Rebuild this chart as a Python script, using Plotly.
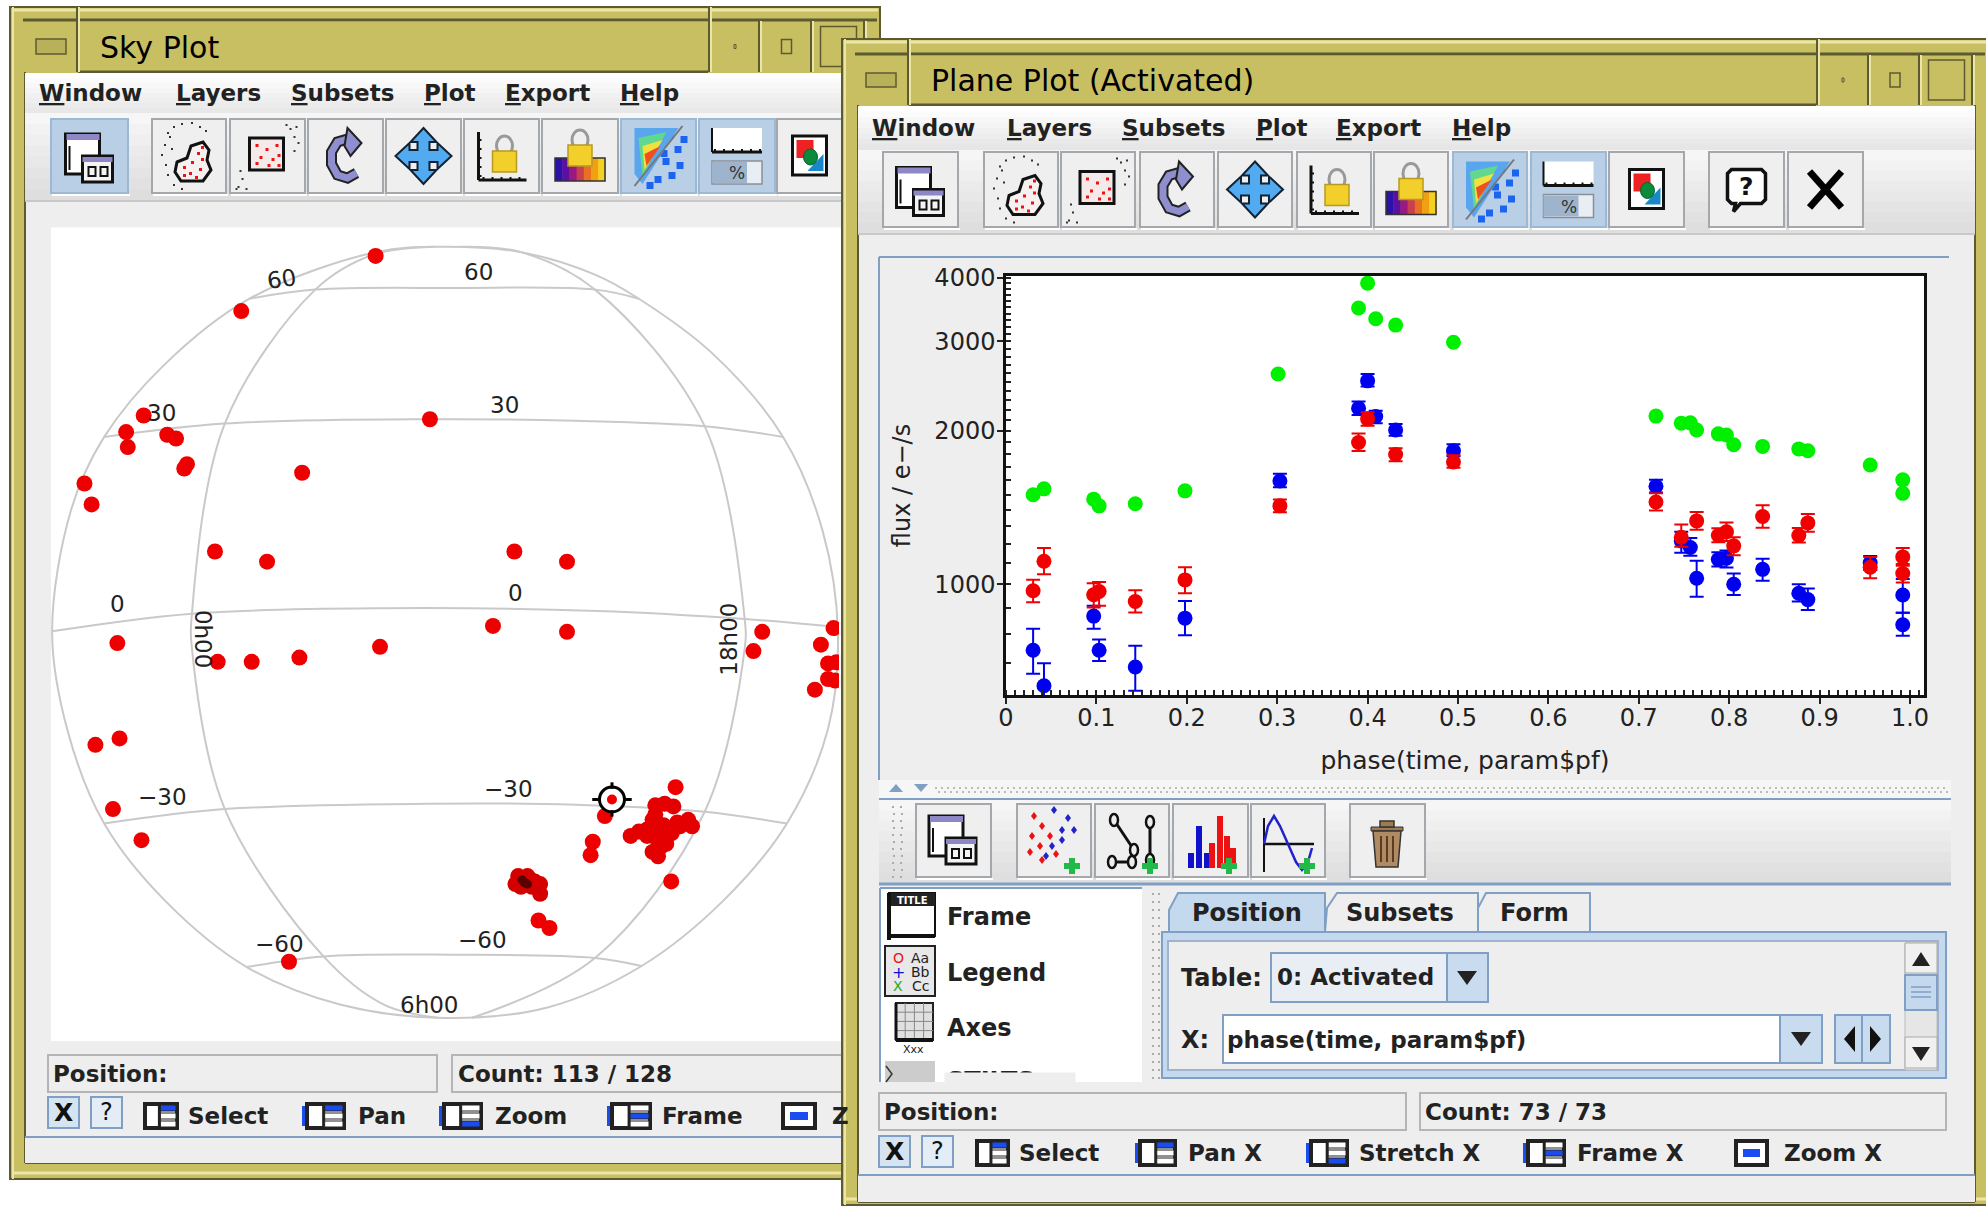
import numpy as np
import plotly.graph_objects as go

W, H = 1986, 1208
FONT = "DejaVu Sans"

# ---------------- Plane plot data ----------------
green_phase = [.030,.042,.097,.103,.143,.198,.301,.390,.400,.409,.431,.495,.719,.747,.757,.764,.788,.797,.805,.837,.877,.887,.956,.992,.992]
green_flux = [1499,1540,1470,1426,1440,1526,2590,3490,3905,3325,3230,2990,2140,2073,2076,2010,1975,1965,1880,1866,1845,1830,1716,1604,1509]

red_phase = [.030,.042,.097,.103,.143,.198,.303,.390,.400,.431,.495,.719,.747,.764,.788,.797,.805,.837,.877,.887,.956,.992,.992]
red_flux = [971,1110,954,968,925,1020,1426,1899,2113,1799,1739,1451,1237,1332,1247,1268,1190,1359,1247,1320,1080,1132,1050]
red_hi = [1021,1179,1005,1011,973,1080,1468,1978,2178,1851,1793,1509,1311,1387,1288,1322,1237,1430,1290,1374,1132,1179,1096]
red_lo = [922,1046,900,908,880,960,1385,1828,2049,1745,1694,1396,1185,1280,1210,1217,1140,1292,1208,1268,1028,1087,1008]

blue_phase = [.030,.042,.097,.103,.143,.198,.303,.390,.400,.409,.431,.495,.719,.747,.757,.764,.788,.797,.805,.837,.877,.887,.956,.992,.992]
blue_flux = [742,632,866,742,688,858,1596,2218,2510,2137,2010,1830,1558,1217,1181,1028,1119,1125,1000,1070,960,933,1102,953,833]
blue_hi = [818,700,908,779,757,927,1648,2287,2590,2192,2066,1884,1604,1269,1233,1112,1156,1165,1050,1123,1000,981,1136,1024,879]
blue_lo = [667,569,818,707,618,794,1551,2150,2447,2073,1959,1784,1514,1153,1138,945,1084,1079,953,1016,925,890,1067,879,792]

y_ticks = [1000,2000,3000,4000]
y_minor = [600,700,800,900,1000,1100,1200,1300,1400,1500,1600,1700,1800,1900,2000,2100,2200,2300,2400,2500,2600,2700,2800,2900,3000,3100,3200,3300,3400,3500,3600,3700,3800,3900,4000]

# ---------------- Sky plot data (position on the sky panel) ----------------
sky_x = [685,440,262,230,233,305,321,341,336,154,167,551,784,392,487,938,1034,899,1034,214,397,459,546,693,174,218,206,258,527,
         1390,1374,1497,1520,1510,1525,1510,1523,1486,1103,1081,1077,1232,1224,982,1002]
sky_y = [67,170,365,396,424,401,408,456,464,492,531,472,372,619,638,619,638,758,769,790,825,825,817,797,980,968,1100,1158,1385,
         769,805,793,762,828,826,857,860,877,1113,1161,1186,1059,1235,1308,1322]
cluster_x = [1195,1212,1228,1190,1150,1165,1180,1195,1210,1240,1255,1262,1180,1195,1210,1225,1205,1190,1200,1195,1215,1235,1200]
cluster_y = [1093,1090,1095,1120,1150,1142,1138,1135,1130,1132,1120,1132,1150,1150,1155,1145,1170,1180,1188,1110,1165,1125,1160]
clump_x = [945,975,985,970,985,940,950,962,968]
clump_y = [1225,1235,1240,1245,1258,1240,1245,1225,1232]
core_x = [955,958,952,962]
core_y = [1236,1238,1232,1240]
target_x, target_y = [1116], [1082]

grid_lat = {
    "60":  ([455,575,830,1085,1165],[147,130,127,130,147]),
    "30":  ([190,410,780,1050,1285,1428],[405,380,372,375,385,405]),
    "0":   ([95,350,700,1090,1358,1528],[768,735,725,730,745,760]),
    "-30": ([190,410,780,1050,1285,1435],[1127,1100,1090,1092,1105,1127]),
    "-60": ([450,590,830,1085,1170],[1395,1375,1372,1378,1393]),
}
grid_lon = {
    "0h00":  ([790,680,575,410,350,350,410,590,700,800],[50,65,130,380,735,800,1100,1375,1465,1490]),
    "18h00": ([840,950,1085,1285,1358,1358,1285,1085,860],[50,60,130,385,745,800,1105,1378,1490]),
}
limb_x = [811,950,1085,1165,1300,1428,1500,1528,1510,1435,1320,1170,1000,811,620,450,300,190,125,95,130,190,300,455,685,811]
limb_y = [50,60,102,147,250,405,580,770,950,1127,1270,1393,1470,1490,1465,1395,1270,1127,960,770,540,405,270,147,60,50]
sky_labels = [("60",513,110,-8),("60",873,98,0),("30",295,360,0),("30",920,345,0),("0",215,717,0),("0",940,697,0),
              ("0h00",370,782,90),("18h00",1330,783,-90),("\u221230",297,1078,0),("\u221230",927,1063,0),
              ("\u221260",510,1352,0),("\u221260",880,1345,0),("6h00",783,1465,0)]

# ---------------- drawing helpers (pixels -> paper) ----------------
shapes, notes = [], []
PX = lambda x: x / W
PY = lambda y: 1 - y / H
def rect(x0, y0, x1, y1, fill=None, line=None, lw=1):
    shapes.append(dict(type="rect", xref="paper", yref="paper", x0=PX(x0), x1=PX(x1), y0=PY(y1), y1=PY(y0),
                       fillcolor=fill or "rgba(0,0,0,0)", line=dict(color=line or "rgba(0,0,0,0)", width=lw if line else 0), layer="below"))
def seg(x0, y0, x1, y1, color="#000", lw=2):
    shapes.append(dict(type="line", xref="paper", yref="paper", x0=PX(x0), x1=PX(x1), y0=PY(y0), y1=PY(y1),
                       line=dict(color=color, width=lw), layer="below"))
def poly(pts, fill=None, line=None, lw=1, close=True):
    d = "M " + " L ".join(f"{PX(a):.5f} {PY(b):.5f}" for a, b in pts) + (" Z" if close else "")
    shapes.append(dict(type="path", xref="paper", yref="paper", path=d, fillcolor=fill or "rgba(0,0,0,0)",
                       line=dict(color=line or "rgba(0,0,0,0)", width=lw if line else 0), layer="below"))
def oval(cx, cy, rx, ry, fill=None, line=None, lw=1):
    shapes.append(dict(type="circle", xref="paper", yref="paper", x0=PX(cx-rx), x1=PX(cx+rx), y0=PY(cy+ry), y1=PY(cy-ry),
                       fillcolor=fill or "rgba(0,0,0,0)", line=dict(color=line or "rgba(0,0,0,0)", width=lw if line else 0), layer="below"))
def text(x, y, s, size=23, anchor="left", color="#222", bold=False, angle=0):
    notes.append(dict(xref="paper", yref="paper", x=PX(x), y=PY(y), text=f"<b>{s}</b>" if bold else s, showarrow=False,
                      xanchor=anchor, yanchor="middle", textangle=angle, borderpad=0,
                      font=dict(family=FONT, size=size, color=color)))
def grad(x0, y0, x1, y1, c0, c1, n=8):
    a, b = np.array(c0), np.array(c1)
    for i in range(n):
        c = a + (b - a) * i / (n - 1)
        rect(x0, y0 + (y1-y0)*i/n, x1, y0 + (y1-y0)*(i+1)/n + .5, fill="rgb(%d,%d,%d)" % tuple(c))

OLIVE, LIGHT, DARK = "#c8bf62", "#ece6a6", "#5d5a32"
PANEL, METAL, BLUE = "#eeeeee", "#b8cfe5", "#7f9fc4"

def frame(x0, y0, x1, y1, tx0, tx1, ty0, ty1, cl, cr, cb, lb0, lb1, btns):
    rect(x0, y0, x1, y1, fill=OLIVE, line=DARK, lw=2)
    seg(x0+2, y0+3, x1-2, y0+3, LIGHT, 3)
    seg(x0+3, y0, x0+3, y1, LIGHT, 2)
    seg(x0+2, y1-6, x1-2, y1-6, LIGHT, 3)
    rect(tx0, ty0, tx1, ty1, fill=OLIVE)
    seg(tx0, ty0, tx1, ty0, LIGHT, 2); seg(tx0, ty1, tx1, ty1, DARK, 3)
    seg(x0+13, ty0-1, x1-3, ty0-1, DARK, 3)
    seg(tx0-1, y0, tx0-1, ty1, DARK, 2); seg(tx0+1, y0, tx0+1, ty1, LIGHT, 2)
    seg(tx1+1, y0, tx1+1, ty1, DARK, 2); seg(tx1+3, y0, tx1+3, ty1, LIGHT, 2)
    rect(lb0, ty0 + 18, lb1, ty1 - 18, line=DARK, lw=1.5, fill="#b9b05a")
    for i, (a, b) in enumerate(btns):
        seg(b, ty0, b, ty1, DARK, 2); seg(b+2, ty0, b+2, ty1, LIGHT, 2)
        m, c = (a+b)/2, (ty0+ty1)/2
        if i == 0: rect(m-1, c-2, m+1, c+2, line=DARK, lw=1)
        if i == 1: rect(m-5, c-7, m+5, c+7, line=DARK, lw=1.5)
        if i == 2: rect(m-18, c-20, m+18, c+20, line=DARK, lw=1.5)
    rect(cl, ty1+1, cr, cb, fill=PANEL)
    seg(cl, ty1, cl, cb, DARK, 2); seg(cl, cb, cr, cb, DARK, 2); seg(cr, ty1, cr, cb, DARK, 2)

def button(x0, y0, x1, y1, active=False):
    rect(x0, y0, x1, y1, fill=METAL if active else "#efefef", line="#a4a8ac" if not active else "#9db8d4", lw=2)
    seg(x0+1, y1+2, x1+2, y1+2, "#ffffff", 2)

def win_icon(cx, cy):
    rect(cx-24, cy-22, cx+10, cy+18, fill="#fff", line="#111", lw=3)
    rect(cx-23, cy-22, cx+10, cy-16, fill="#8d87c6")
    seg(cx-20, cy-10, cx-20, cy+14, "#111", 2)
    rect(cx-7, cy, cx+23, cy+26, fill="#f4f4f4", line="#111", lw=3)
    rect(cx-7, cy+1, cx+23, cy+6, fill="#8d87c6")
    rect(cx-1, cy+11, cx+6, cy+20, line="#111", lw=2); rect(cx+11, cy+11, cx+18, cy+20, line="#111", lw=2)

DOTS = [(-22,-24),(-16,-30),(-8,-33),(2,-34),(10,-30),(-25,-12),(-28,-2),(-24,8),(-22,18),(-16,28),(-8,32),(-18,-8),(16,-26),(-20,-20)]
def blob_icon(cx, cy):
    for a, b in DOTS: rect(cx+a, cy+b, cx+a+2, cy+b+2, fill="#333")
    poly([(cx-12,cy+6),(cx-2,cy+2),(cx+2,cy-10),(cx+14,cy-14),(cx+20,cy-6),(cx+18,cy+4),(cx+22,cy+14),(cx+14,cy+25),(cx-8,cy+25),(cx-14,cy+16)],
         fill="#f6f0f0", line="#111", lw=3)
    for a, b in [(-6,10),(2,5),(8,-4),(12,-10),(0,16),(10,12),(-6,18),(12,2),(6,20)]: rect(cx+a, cy+b, cx+a+3, cy+b+3, fill="#e11")
def box_icon(cx, cy):
    for a, b in [(22,-28),(26,-20),(18,-32),(30,-14),(28,-30),(-30,30),(-26,22),(-22,32),(-32,32),(-28,14),(26,-6)]:
        rect(cx+a, cy+b, cx+a+2, cy+b+2, fill="#333")
    rect(cx-18, cy-18, cx+16, cy+14, fill="#f4eaea", line="#111", lw=3)
    for a, b in [(-12,-12),(-2,-8),(8,-12),(-8,0),(4,2),(10,-2),(-12,6),(0,8),(10,8)]:
        rect(cx+a, cy+b, cx+a+3, cy+b+3, fill="#e11")
def redo_icon(cx, cy):
    pts = [(cx+11, cy+17), (cx+2, cy+22), (cx-8, cy+19), (cx-14, cy+8), (cx-14, cy-4), (cx-8, cy-14), (cx+2, cy-17)]
    poly(pts, line="#222", lw=11, close=False)
    poly(pts, line="#8f8fd0", lw=7, close=False)
    poly([(cx-1,cy-10),(cx+2,cy-28),(cx+16,cy-13),(cx+5,cy)], fill="#8f8fd0", line="#222", lw=2)
def move_icon(cx, cy):
    s, t, e, a = 6, 13, 14, 28
    poly([(cx,cy-a),(cx+t,cy-e),(cx+s,cy-e),(cx+s,cy-s),(cx+e,cy-s),(cx+e,cy-t),(cx+a,cy),(cx+e,cy+t),(cx+e,cy+s),(cx+s,cy+s),(cx+s,cy+e),
          (cx+t,cy+e),(cx,cy+a),(cx-t,cy+e),(cx-s,cy+e),(cx-s,cy+s),(cx-e,cy+s),(cx-e,cy+t),(cx-a,cy),(cx-e,cy-t),(cx-e,cy-s),(cx-s,cy-s),(cx-s,cy-e),(cx-t,cy-e)],
         fill="#52aaf0", line="#123", lw=2)
def lock(cx, cy):
    oval(cx, cy-10, 8, 10, line="#999", lw=3)
    rect(cx-12, cy-5, cx+12, cy+16, fill="#f2cf2a", line="#b89a20", lw=1.5)
def axlock_icon(cx, cy):
    seg(cx-23, cy-24, cx-23, cy+24, "#111", 3); seg(cx-23, cy+24, cx+25, cy+24, "#111", 3)
    for d in range(0, 45, 9):
        seg(cx-18+d, cy+24, cx-18+d, cy+21, "#111", 2); seg(cx-23, cy-16+d, cx-20, cy-16+d, "#111", 2)
    lock(cx+3, cy)
def colorlock_icon(cx, cy):
    for i, c in enumerate(["#2a12a8","#5a10a0","#9a1880","#c84050","#e87020","#f0a010","#f4d020"]):
        rect(cx-25+i*7.2, cy+2, cx-25+(i+1)*7.2+.5, cy+25, fill=c)
    rect(cx-25, cy+2, cx+25, cy+25, line="#333", lw=1.5)
    lock(cx, cy-6)
def density_icon(cx, cy):
    for a, b in [(8,-24),(16,-10),(4,2),(18,6),(10,16),(-4,20),(22,-20),(-12,26),(2,-6)]:
        rect(cx+a, cy+b, cx+a+7, cy+b+7, fill="#1c64f0")
    poly([(cx-24,cy-28),(cx+20,cy-28),(cx-16,cy+28),(cx-24,cy+18)], fill="#5aa6ee")
    poly([(cx-20,cy-18),(cx+8,cy-24),(cx-16,cy+20)], fill="#60d890")
    poly([(cx-16,cy-10),(cx+4,cy-16),(cx-14,cy+14)], fill="#f0e040")
    poly([(cx-14,cy-2),(cx+2,cy-10),(cx-12,cy+10)], fill="#f05020")
    seg(cx-24, cy+30, cx+24, cy-30, "#777", 2)
def pct_icon(cx, cy):
    rect(cx-25, cy-28, cx+25, cy-4, fill="#fff")
    seg(cx-25, cy-4, cx+25, cy-4, "#111", 3); seg(cx-25, cy-28, cx-25, cy-4, "#111", 2)
    for d in range(0, 50, 9): seg(cx-22+d, cy-4, cx-22+d, cy-7, "#111", 2)
    rect(cx-25, cy+5, cx+25, cy+28, fill="#e8eef4", line="#8a8f96", lw=1.5)
    rect(cx-25, cy+6, cx+10, cy+27, fill="#9db4cc")
    text(cx, cy+17, "%", 17, "center", "#333")
def colors_icon(cx, cy):
    rect(cx-17, cy-20, cx+17, cy+19, fill="#fff", line="#111", lw=3)
    rect(cx-13, cy-16, cx+4, cy+2, fill="#ee2222")
    poly([(cx-2,cy+15),(cx+14,cy+15),(cx+14,cy-2)], fill="#1888c8")
    oval(cx+1, cy+1, 7, 8, fill="#0a8a3a", line="#063", lw=1)
def help_icon(cx, cy):
    poly([(cx-15,cy-20),(cx+15,cy-20),(cx+19,cy-16),(cx+19,cy+10),(cx+15,cy+14),(cx-6,cy+14),(cx-13,cy+22),(cx-11,cy+14),(cx-15,cy+14),(cx-19,cy+10),(cx-19,cy-16)],
         fill="#fff", line="#111", lw=3.5)
    text(cx, cy-3, "<b>?</b>", 25, "center", "#111")
def x_icon(cx, cy):
    seg(cx-16, cy-18, cx+16, cy+18, "#000", 7); seg(cx+16, cy-18, cx-16, cy+18, "#000", 7)

def toolbar(btns, y0, y1, actives):
    fns = [win_icon, blob_icon, box_icon, redo_icon, move_icon, axlock_icon, colorlock_icon, density_icon, pct_icon, colors_icon, help_icon, x_icon]
    for i, (a, b) in enumerate(btns):
        button(a, y0, b, y1, i in actives)
        if i < len(fns): fns[i]((a+b)/2, (y0+y1)/2)

def mode_icon(x0, y0, x1, y1, which, wing=False):
    if wing:
        rect(x0-5, y0+2, x0+3, y1-2, fill="#1a4cf0")
    rect(x0, y0, x1, y1, fill="#fff", line="#222", lw=4)
    m = x0 + (x1-x0)*.45
    seg(m, y0, m, y1, "#222", 3)
    ys = [y0+(y1-y0)*k/3 for k in range(4)]
    for k in range(3):
        rect(m+1, ys[k]+1, x1-1, ys[k+1]-1, fill="#1a4cf0" if k == which else "#fff", line="#222", lw=1)

# ---------------- Sky Plot window ----------------
frame(10, 7, 880, 1179, 78, 708, 21, 72, 25, 842, 1163, 36, 66, [(711,759),(762,811),(813,864)])
grad(25, 73, 842, 113, (255,255,255), (232,232,232))
text(99, 47, "Sky Plot", 30, color="#000")
for s, x in [("<u>W</u>indow",38),("<u>L</u>ayers",175),("<u>S</u>ubsets",290),("<u>P</u>lot",423),("<u>E</u>xport",504),("<u>H</u>elp",619)]:
    text(x, 93, s, 23, bold=True)
grad(25, 113, 842, 200, (246,246,246), (222,222,222))
seg(25, 201, 842, 201, "#c8c8c8", 2)
toolbar([(51,128),(152,226),(230,305),(308,383),(386,461),(464,539),(542,618),(621,696),(699,775),(777,842)], 119, 193, {0,7,8})
rect(51, 227.5, 842, 1041, fill="#ffffff")
rect(48, 1055, 437, 1092, line="#b5b5b5", lw=2); rect(452, 1055, 842, 1092, line="#b5b5b5", lw=2)
text(52, 1074, "Position:", 23, bold=True); text(457, 1074, "Count: 113 / 128", 23, bold=True)
rect(48, 1097, 79, 1128, fill="#d6e3f0", line=BLUE, lw=2); text(63, 1112, "<b>X</b>", 25, "center", "#111")
rect(91, 1097, 122, 1128, fill="#e4edf6", line=BLUE, lw=2); text(106, 1112, "?", 24, "center", "#111")
mode_icon(145, 1104, 177, 1128, 0); text(187, 1116, "Select", 23, bold=True)
mode_icon(307, 1104, 344, 1128, 0, True); text(357, 1116, "Pan", 23, bold=True)
mode_icon(444, 1104, 481, 1128, 2, True); text(494, 1116, "Zoom", 23, bold=True)
mode_icon(612, 1104, 650, 1128, 1, True); text(661, 1116, "Frame", 23, bold=True)
rect(783, 1104, 815, 1128, fill="#fff", line="#222", lw=4); rect(790, 1112, 808, 1120, fill="#1a4cf0")
text(831, 1116, "Z", 23, bold=True)
rect(25, 1137, 842, 1163, fill=PANEL); seg(25, 1137, 842, 1137, BLUE, 2)

# ---------------- Plane Plot window ----------------
frame(842, 39, 1988, 1205, 909, 1816, 55, 105, 858, 1975, 1202, 866, 896, [(1818,1868),(1871,1919),(1921,1972)])
grad(858, 106, 1975, 150, (255,255,255), (230,230,230))
text(930, 80, "Plane Plot (Activated)", 30, color="#000")
for s, x in [("<u>W</u>indow",871),("<u>L</u>ayers",1006),("<u>S</u>ubsets",1121),("<u>P</u>lot",1255),("<u>E</u>xport",1335),("<u>H</u>elp",1451)]:
    text(x, 128, s, 23, bold=True)
grad(858, 150, 1975, 233, (246,246,246), (222,222,222))
seg(858, 234, 1975, 234, "#c8c8c8", 2)
toolbar([(883,958),(984,1058),(1061,1135),(1140,1214),(1218,1292),(1297,1371),(1374,1448),(1453,1527),(1531,1606),(1609,1684),(1709,1784),(1788,1863)], 152, 227, {7,8})
seg(879, 257, 1949, 257, BLUE, 2); seg(879, 257, 879, 780, BLUE, 2)
rect(1006, 276, 1924, 695, fill="#ffffff")
# splitter
rect(879, 780, 1951, 798, fill="#f6f6f6")
poly([(889,792),(903,792),(896,784)], fill=BLUE); poly([(914,784),(928,784),(921,792)], fill=BLUE)
for x in range(935, 1948, 6):
    rect(x, 787, x+2, 789, fill="#bbbbbb"); rect(x+3, 791, x+5, 793, fill="#bbbbbb")
seg(879, 799, 1951, 799, BLUE, 2)
# layer toolbar
grad(879, 800, 1951, 883, (246,246,246), (222,222,222))
seg(879, 884, 1951, 884, BLUE, 3)
for x in [892, 900]:
    for y in range(806, 880, 7):
        rect(x + (y % 2), y, x + 2 + (y % 2), y+2, fill="#aaaaaa")
for a, b in [(916,991),(1017,1091),(1095,1169),(1173,1248),(1251,1325),(1350,1425)]:
    button(a, 804, b, 877)
win_icon(953, 838)
# points-plus icon
c = 1054
for a, b, col in [(-20,-22,"#e11"),(-12,-12,"#e11"),(-22,-2,"#e11"),(-14,8,"#e11"),(-4,-2,"#e11"),(2,16,"#e11"),(-12,22,"#e11"),(-24,14,"#e11"),
                  (0,-28,"#22c"),(14,-20,"#22c"),(8,-8,"#22c"),(20,-8,"#22c"),(-2,8,"#22c"),(8,2,"#22c"),(-8,18,"#22c")]:
    py0 = 838 + b
    poly([(c+a, py0-4), (c+a+3, py0), (c+a, py0+4), (c+a-3, py0)], fill=col)
def plus(cx, cy):
    rect(cx-8, cy-3, cx+8, cy+3, fill="#22b84a"); rect(cx-3, cy-8, cx+3, cy+8, fill="#22b84a")
plus(1072, 866)
# link-plus icon
c = 1132
seg(c-18, 820, c+2, 850, "#111", 3); seg(c+18, 822, c+18, 862, "#111", 3); seg(c-18, 862, c+2, 862, "#111", 3)
for a, b in [(-18,820),(2,850),(18,822),(18,860),(-20,862),(0,862)]:
    oval(c+a, b, 4, 6, fill="#eee", line="#111", lw=2.5)
plus(1150, 866)
# bars-plus icon
c = 1210
for a, h, col in [(-22,15,"#11c"),(-14,42,"#11c"),(-6,15,"#11c"),(-1,25,"#e11"),(7,52,"#e11"),(14,32,"#e11"),(20,20,"#e11")]:
    rect(c+a, 868-h, c+a+6, 868, fill=col)
plus(1229, 866)
# function-plus icon
c = 1288
seg(c-24, 818, c-24, 872, "#111", 2); seg(c-24, 844, c+26, 844, "#111", 2.5)
wave = [(-24,844),(-20,826),(-14,816),(-8,826),(0,844),(8,862),(14,870),(20,862),(24,848)]
poly([(c+a, b) for a, b in wave], line="#2222cc", lw=2.5, close=False)
plus(1307, 866)
# bin icon
c = 1387
rect(c-16, 827, c+16, 831, fill="#a07a50", line="#333", lw=1)
rect(c-7, 821, c+7, 827, fill="#a07a50", line="#333", lw=1.5)
poly([(c-14,831),(c+14,831),(c+11,867),(c-11,867)], fill="#b08a62", line="#333", lw=1.5)
for d in [-6, 0, 6]: seg(c+d, 836, c+d, 862, "#5a3d20", 2)
# control list
rect(881, 888, 1142, 1082, fill="#ffffff")
for x in [1152, 1158]:
    for y in range(893, 1082, 8):
        rect(x, y, x+2, y+2, fill="#aaaaaa")
seg(880, 888, 1142, 888, BLUE, 2); seg(880, 888, 880, 1082, BLUE, 2)
rect(889, 893, 935, 936, fill="#fff", line="#111", lw=2)
rect(889, 893, 935, 906, fill="#222"); text(912, 900, "<b>TITLE</b>", 10, "center", "#fff")
seg(889, 893, 889, 940, "#111", 4); seg(889, 936, 935, 936, "#111", 4)
text(946, 917, "Frame", 24, bold=True)
rect(885, 946, 935, 996, fill="#e8e8e8", line="#222", lw=2)
text(898, 958, "O", 14, "center", "#e11"); text(898, 972, "+", 16, "center", "#11c"); text(898, 986, "X", 14, "center", "#2a2")
text(920, 958, "Aa", 14, "center"); text(920, 972, "Bb", 14, "center"); text(920, 986, "Cc", 14, "center")
text(946, 973, "Legend", 24, bold=True)
rect(896, 1003, 933, 1040, fill="#e0e0e0", line="#222", lw=2)
for k in range(1, 4):
    seg(896, 1003+k*9.2, 933, 1003+k*9.2, "#888", 1); seg(896+k*9.2, 1003, 896+k*9.2, 1040, "#888", 1)
seg(896, 1040, 933, 1040, "#111", 4); seg(896, 1003, 896, 1040, "#111", 3)
text(913, 1049, "Xxx", 11, "center")
text(946, 1028, "Axes", 24, bold=True)
rect(885, 1061, 935, 1082, fill="#cccccc")
poly([(886,1066),(892,1074),(886,1082)], line="#333", lw=1.5, close=False)
text(946, 1081, "STILTS", 24, bold=True)
notes.append(dict(xref="paper", yref="paper", x=PX(1010), y=PY(1090), text=" ", showarrow=False, width=130, height=16, bgcolor=PANEL, borderpad=0))
# tabs
poly([(1169,932),(1169,910),(1178,893),(1325,893),(1325,932)], fill="#c5d9ee", line=BLUE, lw=2)
poly([(1325,932),(1327,908),(1337,893),(1478,893),(1478,932)], fill=PANEL, line=BLUE, lw=2)
poly([(1478,932),(1478,908),(1486,893),(1590,893),(1590,932)], fill=PANEL, line=BLUE, lw=2)
text(1247, 913, "Position", 24, "center", bold=True); text(1400, 913, "Subsets", 24, "center", bold=True); text(1534, 913, "Form", 24, "center", bold=True)
rect(1162, 932, 1946, 1078, fill="#c5d9ee", line=BLUE, lw=2)
rect(1168, 941, 1938, 1070, fill=PANEL, line="#9fb4cc", lw=2)
text(1180, 978, "Table:", 24, bold=True)
rect(1271, 953, 1488, 1002, fill="#e9eef4", line=BLUE, lw=2); rect(1447, 953, 1488, 1002, fill="#c9dbee", line=BLUE, lw=2)
poly([(1457,971),(1477,971),(1467,985)], fill="#222")
text(1276, 977, "0: Activated", 23, bold=True)
text(1180, 1040, "X:", 24, bold=True)
rect(1223, 1015, 1780, 1063, fill="#fff", line=BLUE, lw=2); rect(1780, 1015, 1822, 1063, fill="#c9dbee", line=BLUE, lw=2)
poly([(1791,1032),(1811,1032),(1801,1046)], fill="#222")
text(1226, 1040, "phase(time, param$pf)", 23, bold=True)
rect(1835, 1015, 1862, 1063, fill="#c9dbee", line=BLUE, lw=2); rect(1862, 1015, 1890, 1063, fill="#c9dbee", line=BLUE, lw=2)
poly([(1855,1026),(1855,1052),(1844,1039)], fill="#111"); poly([(1870,1026),(1870,1052),(1881,1039)], fill="#111")
rect(1905, 943, 1937, 1070, fill="#e6e6e6", line="#bbbbbb", lw=1)
rect(1905, 943, 1937, 973, fill="#f0f0f0", line="#aaaaaa", lw=1); poly([(1912,966),(1930,966),(1921,952)], fill="#222")
rect(1905, 975, 1937, 1010, fill="#c5d9ee", line=BLUE, lw=2)
for y in [987, 992, 997]: seg(1911, y, 1931, y, BLUE, 1.5)
rect(1905, 1037, 1937, 1068, fill="#f0f0f0", line="#aaaaaa", lw=1); poly([(1912,1047),(1930,1047),(1921,1061)], fill="#222")
# status
rect(879, 1093, 1406, 1130, line="#b5b5b5", lw=2); rect(1420, 1093, 1946, 1130, line="#b5b5b5", lw=2)
text(883, 1112, "Position:", 23, bold=True); text(1424, 1112, "Count: 73 / 73", 23, bold=True)
rect(879, 1136, 910, 1167, fill="#d6e3f0", line=BLUE, lw=2); text(894, 1151, "<b>X</b>", 25, "center", "#111")
rect(922, 1136, 953, 1167, fill="#e4edf6", line=BLUE, lw=2); text(937, 1151, "?", 24, "center", "#111")
mode_icon(977, 1141, 1008, 1165, 0); text(1018, 1153, "Select", 23, bold=True)
mode_icon(1140, 1141, 1175, 1165, 0, True); text(1187, 1153, "Pan X", 23, bold=True)
mode_icon(1311, 1141, 1347, 1165, 2, True); text(1358, 1153, "Stretch X", 23, bold=True)
mode_icon(1528, 1141, 1564, 1165, 1, True); text(1576, 1153, "Frame X", 23, bold=True)
rect(1736, 1141, 1767, 1165, fill="#fff", line="#222", lw=4); rect(1743, 1149, 1760, 1157, fill="#1a4cf0")
text(1783, 1153, "Zoom X", 23, bold=True)
rect(858, 1175, 1975, 1202, fill=PANEL); seg(858, 1175, 1975, 1175, BLUE, 2)

# ---------------- traces ----------------
fig = go.Figure()
for name, (gx, gy) in {**grid_lat, **grid_lon}.items():
    fig.add_trace(go.Scatter(x=gx, y=gy, xaxis="x2", yaxis="y2", mode="lines", name=name, showlegend=False,
                             line=dict(color="#c9c9c9", width=2, shape="spline"), hoverinfo="skip"))
fig.add_trace(go.Scatter(x=limb_x, y=limb_y, xaxis="x2", yaxis="y2", mode="lines", showlegend=False,
                         line=dict(color="#c9c9c9", width=2, shape="spline"), hoverinfo="skip"))
fig.add_trace(go.Scatter(x=sky_x, y=sky_y, xaxis="x2", yaxis="y2", mode="markers", showlegend=False, marker=dict(color="#ee0000", size=16)))
fig.add_trace(go.Scatter(x=cluster_x, y=cluster_y, xaxis="x2", yaxis="y2", mode="markers", showlegend=False, marker=dict(color="#e40000", size=16)))
fig.add_trace(go.Scatter(x=clump_x, y=clump_y, xaxis="x2", yaxis="y2", mode="markers", showlegend=False, marker=dict(color="#d40000", size=16)))
fig.add_trace(go.Scatter(x=core_x, y=core_y, xaxis="x2", yaxis="y2", mode="markers", showlegend=False, marker=dict(color="#5a0000", size=9)))
# activated-row target marker
fig.add_trace(go.Scatter(x=target_x, y=target_y, xaxis="x2", yaxis="y2", mode="markers", showlegend=False,
                         marker=dict(symbol="circle", size=25, color="#ffffff", line=dict(color="#000", width=3))))
fig.add_trace(go.Scatter(x=target_x, y=target_y, xaxis="x2", yaxis="y2", mode="markers", showlegend=False,
                         marker=dict(color="#ee0000", size=10)))

def series(px, py, hi, lo, col):
    py = np.array(py, float)
    fig.add_trace(go.Scatter(x=px, y=py, mode="markers", showlegend=False, marker=dict(color=col, size=15),
                             error_y=dict(type="data", symmetric=False, array=np.array(hi)-py, arrayminus=py-np.array(lo),
                                          color=col, thickness=2, width=7)))
fig.add_trace(go.Scatter(x=green_phase, y=green_flux, mode="markers", showlegend=False, marker=dict(color="#00f000", size=15)))
series(blue_phase, blue_flux, blue_hi, blue_lo, "#0000f0")
series(red_phase, red_flux, red_hi, red_lo, "#f00000")
# empty trace that carries the axis holding the minor flux ticks
fig.add_trace(go.Scatter(x=[None], y=[None], yaxis="y3", showlegend=False, hoverinfo="skip"))

Y_RANGE = [2.7825, 3.6057]
fig.update_layout(
    width=W, height=H, autosize=False, margin=dict(l=0, r=0, t=0, b=0, pad=0, autoexpand=False), showlegend=False,
    paper_bgcolor="#ffffff", plot_bgcolor="rgba(0,0,0,0)", font=dict(family=FONT, size=24, color="#222"),
    shapes=shapes,
    xaxis=dict(domain=[PX(1006), PX(1924)], range=[0, 1.0155], tick0=0, dtick=.1, tickformat=".1f", labelalias={"0.0": "0"},
               ticks="outside", ticklen=6, tickwidth=2, tickcolor="#222", showgrid=False, zeroline=False, showline=True,
               linecolor="#111", linewidth=2.5, mirror=True, ticklabelstandoff=-7,
               minor=dict(dtick=.01, ticks="inside", ticklen=5, tickwidth=2, tickcolor="#222", showgrid=False),
               title=dict(text="phase(time, param$pf)", standoff=21, font=dict(size=25))),
    yaxis=dict(domain=[PY(695), PY(276)], type="log", range=Y_RANGE, tickmode="array", tickvals=y_ticks, ticktext=[str(v) for v in y_ticks],
               ticks="outside", ticklen=6, tickwidth=2, tickcolor="#222", showgrid=False, zeroline=False, showline=True,
               linecolor="#111", linewidth=2.5, mirror=True, ticklabelstandoff=-3,
               title=dict(text="flux / e\u2212/s", standoff=17, font=dict(size=24))),
    yaxis3=dict(overlaying="y", side="left", type="log", range=Y_RANGE, tickmode="array", tickvals=y_minor, ticks="inside",
                ticklen=5, tickwidth=2, tickcolor="#222", showticklabels=False, showgrid=False, zeroline=False, showline=False, anchor="x"),
    xaxis2=dict(domain=[PX(51), PX(839)], range=[93, 1530], visible=False, anchor="y2"),
    yaxis2=dict(domain=[PY(1041), PY(227.5)], range=[1533, 14], visible=False, anchor="x2"),
)
# crosshair ticks and sky labels live on the sky axes
for x0, x1, y0, y1 in [(1080,1094,1082,1082),(1138,1152,1082,1082),(1116,1116,1050,1062),(1116,1116,1102,1114)]:
    fig.add_shape(type="line", xref="x2", yref="y2", x0=x0, x1=x1, y0=y0, y1=y1, line=dict(color="#000", width=3))
for s, zx, zy, ang in sky_labels:
    notes.append(dict(xref="x2", yref="y2", x=zx, y=zy, text=s, showarrow=False, textangle=ang, font=dict(family=FONT, size=23, color="#222")))
fig.update_layout(annotations=notes)
fig.write_html("out.html", config={"displayModeBar": False},
               post_script="document.body.style.margin='0';var d=document.querySelector('.plotly-graph-div');d.style.position='fixed';d.style.left='0';d.style.top='0';")
